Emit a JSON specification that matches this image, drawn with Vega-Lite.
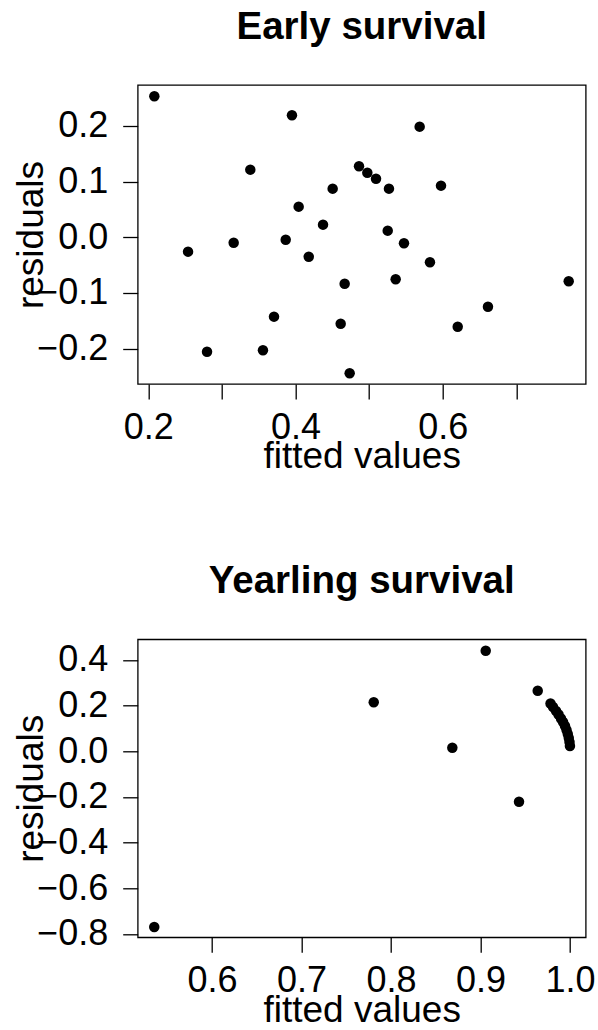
{
  "$schema": "https://vega.github.io/schema/vega-lite/v6.json",
  "autosize": {"type": "none"},
  "padding": {"left": 137.7, "top": 85, "right": 460.3, "bottom": 945},
  "background": "white",
  "bounds": "flush",
  "spacing": 255.3,
  "config": {
    "view": {"stroke": "black", "strokeWidth": 1.3},
    "axis": {
      "domain": false,
      "grid": false,
      "ticks": true,
      "tickColor": "black",
      "tickWidth": 1.3,
      "tickSize": 15,
      "labelColor": "black",
      "labelFont": "Liberation Sans",
      "labelFontSize": 36,
      "labelOverlap": false,
      "labelFlush": false,
      "titleColor": "black",
      "titleFont": "Liberation Sans",
      "titleFontSize": 37,
      "titleFontWeight": "normal"
    },
    "title": {
      "font": "Liberation Sans",
      "fontSize": 38.5,
      "fontWeight": "bold",
      "color": "black",
      "anchor": "middle",
      "frame": "group",
      "baseline": "alphabetic",
      "offset": 37.6
    }
  },
  "datasets": {
    "early": [
      {"fitted": 0.2082, "residual": 0.2531},
      {"fitted": 0.3952, "residual": 0.2190},
      {"fitted": 0.5687, "residual": 0.1986},
      {"fitted": 0.3386, "residual": 0.1214},
      {"fitted": 0.4863, "residual": 0.1274},
      {"fitted": 0.4976, "residual": 0.1160},
      {"fitted": 0.5094, "residual": 0.1052},
      {"fitted": 0.4505, "residual": 0.0873},
      {"fitted": 0.5270, "residual": 0.0873},
      {"fitted": 0.5977, "residual": 0.0927},
      {"fitted": 0.4043, "residual": 0.0550},
      {"fitted": 0.4374, "residual": 0.0227},
      {"fitted": 0.5253, "residual": 0.0119},
      {"fitted": 0.2540, "residual": -0.0258},
      {"fitted": 0.3160, "residual": -0.0097},
      {"fitted": 0.3867, "residual": -0.0043},
      {"fitted": 0.4180, "residual": -0.0348},
      {"fitted": 0.5474, "residual": -0.0108},
      {"fitted": 0.5827, "residual": -0.0449},
      {"fitted": 0.5361, "residual": -0.0754},
      {"fitted": 0.4668, "residual": -0.0833},
      {"fitted": 0.7712, "residual": -0.0790},
      {"fitted": 0.6615, "residual": -0.1246},
      {"fitted": 0.3708, "residual": -0.1425},
      {"fitted": 0.4614, "residual": -0.1551},
      {"fitted": 0.6204, "residual": -0.1605},
      {"fitted": 0.2798, "residual": -0.2054},
      {"fitted": 0.3558, "residual": -0.2029},
      {"fitted": 0.4736, "residual": -0.2442}
    ],
    "yearling": [
      {"fitted": 0.5355, "residual": -0.7696},
      {"fitted": 0.7807, "residual": 0.2146},
      {"fitted": 0.9058, "residual": 0.4407},
      {"fitted": 0.8685, "residual": 0.0158},
      {"fitted": 0.9430, "residual": -0.2208},
      {"fitted": 0.9639, "residual": 0.2654},
      {"fitted": 0.9782, "residual": 0.2094},
      {"fitted": 0.9810, "residual": 0.1940},
      {"fitted": 0.9844, "residual": 0.1765},
      {"fitted": 0.9872, "residual": 0.1612},
      {"fitted": 0.9899, "residual": 0.1437},
      {"fitted": 0.9922, "residual": 0.1283},
      {"fitted": 0.9944, "residual": 0.1108},
      {"fitted": 0.9961, "residual": 0.0933},
      {"fitted": 0.9975, "residual": 0.0758},
      {"fitted": 0.9986, "residual": 0.0583},
      {"fitted": 0.9994, "residual": 0.0407},
      {"fitted": 0.9999, "residual": 0.0232}
    ]
  },
  "vconcat": [
    {
      "title": {"text": "Early survival"},
      "width": 448,
      "height": 299,
      "data": {"name": "early"},
      "mark": {"type": "circle", "color": "black", "opacity": 1, "size": 110},
      "encoding": {
        "x": {
          "field": "fitted", "type": "quantitative",
          "scale": {"domain": [0.1856, 0.7943], "nice": false, "zero": false},
          "axis": {
            "title": "fitted values",
            "values": [0.2, 0.3, 0.4, 0.5, 0.6, 0.7],
            "labelExpr": "round(datum.value * 10) % 2 == 0 ? format(datum.value, '.1f') : ''",
            "labelBaseline": "alphabetic",
            "labelPadding": 39,
            "titleBaseline": "alphabetic",
            "titleY": 83.5
          }
        },
        "y": {
          "field": "residual", "type": "quantitative",
          "scale": {"domain": [-0.2634, 0.2734], "nice": false, "zero": false},
          "axis": {
            "title": "residuals",
            "values": [-0.2, -0.1, 0, 0.1, 0.2],
            "format": ".1f",
            "labelBaseline": "middle",
            "labelPadding": 15,
            "titleAngle": -90,
            "titleBaseline": "alphabetic",
            "titleAlign": "center",
            "titleX": -95.7,
            "titleY": 149.5
          }
        }
      }
    },
    {
      "title": {"text": "Yearling survival"},
      "width": 448,
      "height": 298,
      "data": {"name": "yearling"},
      "mark": {"type": "circle", "color": "black", "opacity": 1, "size": 110},
      "encoding": {
        "x": {
          "field": "fitted", "type": "quantitative",
          "scale": {"domain": [0.517, 1.0175], "nice": false, "zero": false},
          "axis": {
            "title": "fitted values",
            "values": [0.6, 0.7, 0.8, 0.9, 1.0],
            "format": ".1f",
            "labelBaseline": "alphabetic",
            "labelPadding": 39.4,
            "titleBaseline": "alphabetic",
            "titleY": 84.4
          }
        },
        "y": {
          "field": "residual", "type": "quantitative",
          "scale": {"domain": [-0.8147, 0.4906], "nice": false, "zero": false},
          "axis": {
            "title": "residuals",
            "values": [-0.8, -0.6, -0.4, -0.2, 0, 0.2, 0.4],
            "format": ".1f",
            "labelBaseline": "middle",
            "labelPadding": 15,
            "titleAngle": -90,
            "titleBaseline": "alphabetic",
            "titleAlign": "center",
            "titleX": -95.7,
            "titleY": 149
          }
        }
      }
    }
  ]
}
